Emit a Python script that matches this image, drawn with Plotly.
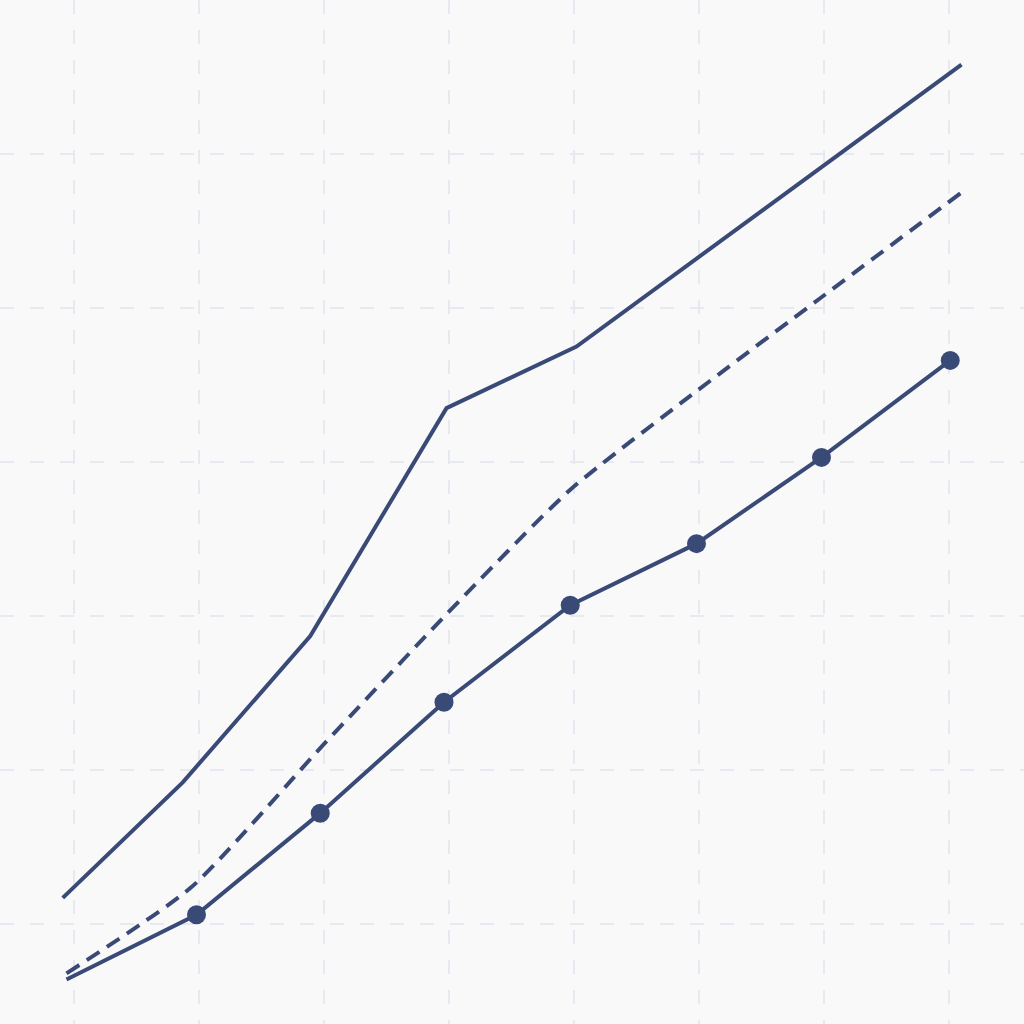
import plotly.graph_objects as go

# series (x in grid steps, y in grid steps)
upper_x = [-0.09, 0.87, 1.89, 2.98, 4.02, 7.1]
upper_y = [0.17, 0.92, 1.87, 3.35, 3.75, 5.58]

mid_x = [-0.06, 0.94, 1.99, 2.99, 3.97, 4.98, 5.98, 7.1]
mid_y = [-0.32, 0.24, 1.16, 2.02, 2.82, 3.46, 4.07, 4.75]

obs_x = [-0.06, 0.98, 1.97, 2.96, 3.97, 4.98, 5.98, 7.01]
obs_y = [-0.36, 0.06, 0.72, 1.44, 2.07, 2.47, 3.03, 3.66]
obs_marker = [0, 19, 19, 19, 19, 19, 19, 19]

ink = "#3a4a77"

fig = go.Figure()
fig.add_trace(go.Scatter(x=upper_x, y=upper_y, mode="lines",
                         line=dict(color=ink, width=4)))
fig.add_trace(go.Scatter(x=mid_x, y=mid_y, mode="lines",
                         line=dict(color=ink, width=4, dash="15px,9px", shape="spline", smoothing=0.6)))
fig.add_trace(go.Scatter(x=obs_x, y=obs_y, mode="lines+markers",
                         line=dict(color=ink, width=4),
                         marker=dict(color=ink, size=obs_marker, opacity=1,
                                     line=dict(width=0))))

grid = dict(showgrid=True, gridcolor="#e6eaf0", gridwidth=2, griddash="14px,16px",
            zeroline=False, showticklabels=False, ticks="", showline=False, dtick=1)

fig.update_layout(
    width=1024, height=1024,
    margin=dict(l=0, r=0, t=0, b=0),
    paper_bgcolor="#f9f9fa", plot_bgcolor="#f9f9fa",
    showlegend=False,
    hovermode=False,
    xaxis=dict(range=[-0.592, 7.6], tick0=0, **grid),
    yaxis=dict(range=[-0.649, 6.0], tick0=0, **grid),
)

# drop the browser's default page margin so the figure fills the window
fig.write_html("out.html", config={"displayModeBar": False},
               post_script="document.body.style.margin='0';")
